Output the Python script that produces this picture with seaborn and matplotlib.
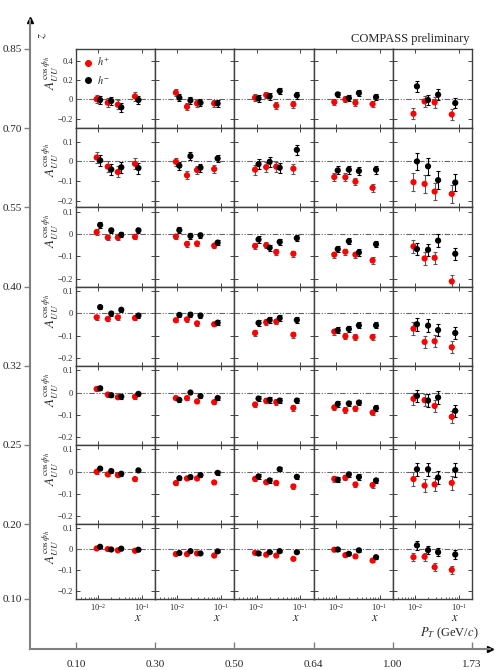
import numpy as np
import pandas as pd
import matplotlib
matplotlib.use('Agg')
import matplotlib.pyplot as plt
from matplotlib.lines import Line2D
from matplotlib.ticker import FuncFormatter, LogLocator, NullFormatter
import seaborn as sns

# bin edges of the outer axes
pt_edges = ['0.10', '0.30', '0.50', '0.64', '1.00', '1.73']
z_edges = ['0.85', '0.70', '0.55', '0.40', '0.32', '0.25', '0.20', '0.10']  # top -> bottom

# mean x of the four x bins
x_bins = [0.0092, 0.0165, 0.028, 0.069]

# A_UU^cos(phi_h), rows = z bins (top first), cols = P_T bins, 4 x bins each
a_pos = [
    [[0.003, -0.035, -0.056, 0.031], [0.07, -0.077, -0.042, -0.042], [0.017, 0.045, -0.066, -0.052],
     [-0.028, 0.0, -0.035, -0.049], [-0.15, -0.021, -0.031, -0.157]],
    [[0.02, -0.027, -0.054, -0.012], [-0.002, -0.071, -0.044, -0.039], [-0.042, -0.029, -0.027, -0.037],
     [-0.08, -0.081, -0.103, -0.135], [-0.106, -0.115, -0.154, -0.166]],
    [[0.009, -0.015, -0.015, -0.012], [-0.011, -0.044, -0.042, -0.052], [-0.053, -0.05, -0.08, -0.088],
     [-0.092, -0.079, -0.092, -0.118], [-0.055, -0.109, -0.106, -0.212]],
    [[-0.018, -0.025, -0.018, -0.021], [-0.031, -0.027, -0.045, -0.049], [-0.088, -0.04, -0.037, -0.096],
     [-0.082, -0.103, -0.107, -0.106], [-0.069, -0.128, -0.125, -0.152]],
    [[0.016, -0.009, -0.021, -0.019], [-0.025, -0.025, -0.04, -0.043], [-0.054, -0.037, -0.043, -0.069],
     [-0.067, -0.079, -0.072, -0.09], [-0.028, -0.034, -0.06, -0.109]],
    [[0.0, -0.012, -0.015, -0.033], [-0.051, -0.03, -0.03, -0.048], [-0.032, -0.047, -0.05, -0.066],
     [-0.032, -0.027, -0.057, -0.06], [-0.033, -0.062, -0.057, -0.05]],
    [[0.003, 0.0, -0.006, -0.008], [-0.024, -0.024, -0.021, -0.031], [-0.018, -0.027, -0.031, -0.047],
     [-0.003, -0.029, -0.035, -0.055], [-0.039, -0.037, -0.087, -0.1]],
]
a_neg = [
    [[-0.007, -0.017, -0.083, -0.007], [0.017, -0.01, -0.035, -0.042], [0.01, 0.031, 0.087, 0.042],
     [0.052, 0.014, 0.066, 0.024], [0.136, -0.007, 0.049, -0.038]],
    [[0.005, -0.041, -0.03, -0.034], [-0.022, 0.027, -0.032, 0.015], [-0.014, -0.002, -0.032, 0.059],
     [-0.046, -0.042, -0.049, -0.042], [0.0, -0.025, -0.096, -0.108]],
    [[0.041, 0.017, -0.003, 0.017], [0.018, -0.008, -0.005, -0.038], [-0.024, -0.061, -0.035, -0.018],
     [-0.067, -0.032, -0.082, -0.045], [-0.067, -0.07, -0.029, -0.088]],
    [[0.028, -0.001, 0.016, -0.01], [-0.007, -0.006, -0.01, -0.042], [-0.043, -0.03, -0.021, -0.03],
     [-0.076, -0.07, -0.054, -0.054], [-0.049, -0.055, -0.075, -0.088]],
    [[0.019, -0.012, -0.018, -0.006], [-0.033, 0.0, -0.016, -0.025], [-0.027, -0.033, -0.036, -0.036],
     [-0.051, -0.049, -0.045, -0.07], [-0.015, -0.036, -0.022, -0.082]],
    [[0.014, 0.003, -0.009, 0.006], [-0.029, -0.024, -0.015, -0.005], [-0.021, -0.039, 0.011, -0.023],
     [-0.036, -0.012, -0.024, -0.039], [0.011, 0.011, -0.026, 0.008]],
    [[0.011, -0.002, 0.002, -0.003], [-0.019, -0.01, -0.021, -0.011], [-0.021, -0.015, -0.01, -0.015],
     [-0.002, -0.023, -0.006, -0.039], [0.018, -0.005, -0.015, -0.026]],
]
# typical statistical error in each panel
a_err = [
    [0.045, 0.035, 0.035, 0.03, 0.055],
    [0.028, 0.02, 0.025, 0.02, 0.045],
    [0.012, 0.012, 0.014, 0.014, 0.028],
    [0.01, 0.01, 0.013, 0.013, 0.028],
    [0.009, 0.008, 0.012, 0.012, 0.028],
    [0.008, 0.008, 0.01, 0.012, 0.03],
    [0.004, 0.005, 0.006, 0.007, 0.02],
]

# y range / ticks per z row
row_ylim = [(-0.3, 0.525), (-0.235, 0.17), (-0.235, 0.12), (-0.235, 0.12),
            (-0.235, 0.12), (-0.235, 0.12), (-0.24, 0.12)]
row_yticks = [[-0.2, 0, 0.2, 0.4]] + [[-0.2, -0.1, 0, 0.1]] * 6

colors = {'h+': 'red', 'h-': 'black'}
ecolors = {'h+': '0.35', 'h-': 'black'}
shift = {'h+': 1.0, 'h-': 1.2}  # small horizontal offset so the two charges don't overlap

# long table
recs = []
for r in range(7):
    for c in range(5):
        for ch, arr in (('h+', a_pos), ('h-', a_neg)):
            for k in range(4):
                recs.append(dict(row=r, col=c, charge=ch, x=x_bins[k] * shift[ch],
                                 A=arr[r][c][k], err=a_err[r][c]))
df = pd.DataFrame(recs)

sns.set_theme(style='ticks')
plt.rcParams['font.family'] = ['Liberation Serif', 'DejaVu Serif']
plt.rcParams['mathtext.fontset'] = 'stix'

fig = plt.figure(figsize=(4.98, 6.70), dpi=100)
gs = fig.add_gridspec(7, 5, left=0.1526, right=0.9478, bottom=0.106, top=0.9269,
                      hspace=0, wspace=0, height_ratios=[1] * 6 + [0.945])
axs = gs.subplots()

yfmt = FuncFormatter(lambda v, p: '0' if abs(v) < 1e-9 else f'{v:g}'.replace('-', '\u2212'))

for r in range(7):
    for c in range(5):
        ax = axs[r, c]
        sub = df[(df.row == r) & (df.col == c)]
        ax.set_xscale('log')
        ax.axhline(0, color='0.4', lw=0.8, dashes=(5, 1.5, 1, 1.5, 1, 1.5), zorder=1)
        for ch in ('h+', 'h-'):
            s = sub[sub.charge == ch]
            ax.errorbar(s.x, s.A, yerr=s.err, fmt='none', ecolor=ecolors[ch],
                        elinewidth=0.8, capsize=1.3, capthick=0.8, zorder=2)
        sns.scatterplot(data=sub, x='x', y='A', hue='charge', palette=colors, ax=ax,
                        legend=False, s=20, linewidth=0, zorder=3)
        ax.set_xlim(0.0031, 0.2)
        ax.set_ylim(*row_ylim[r])
        ax.set_yticks(row_yticks[r])
        ax.yaxis.set_major_formatter(yfmt)
        ax.xaxis.set_major_locator(LogLocator(base=10))
        ax.xaxis.set_minor_locator(LogLocator(base=10, subs=np.arange(2, 10)))
        ax.xaxis.set_minor_formatter(NullFormatter())
        ax.tick_params(which='major', direction='in', top=True, right=True,
                       length=3, width=0.6, labelsize=6, pad=2)
        ax.tick_params(which='minor', direction='in', top=False, length=1.5, width=0.5,
                       bottom=(r == 6))
        ax.tick_params(axis='y', labelleft=(c == 0))
        ax.tick_params(axis='x', labelbottom=(r == 6))
        ax.set_ylabel('')
        ax.set_xlabel('')
        for sp in ax.spines.values():
            sp.set_color('0.25')
            sp.set_linewidth(1.0)
        if c == 0:
            ax.set_ylabel(r'$A_{UU}^{\cos\phi_h}$', fontsize=9.5)
            ax.yaxis.set_label_coords(-0.19, 0.6 if r == 1 else 0.7)
        if r == 6:
            ax.set_xlabel(r'$x$', fontsize=9)
            ax.xaxis.set_label_coords(0.78, -0.17)

# legend in the first panel
handles = [Line2D([], [], ls='none', marker='o', ms=4, color=colors[ch]) for ch in ('h+', 'h-')]
axs[0, 0].legend(handles, [r'$h^{+}$', r'$h^{-}$'], loc='upper left', frameon=False,
                 fontsize=7.5, handletextpad=0.3, labelspacing=0.5, borderaxespad=0.3,
                 handlelength=1.0)

# outer z / P_T axes
ox0, oy0, ow, oh = 30 / 498, 21 / 670, 460 / 498, 629 / 670
oax = fig.add_axes([ox0, oy0, ow, oh])
oax.set_zorder(-1)
oax.patch.set_visible(False)
oax.set_xlim(ox0, ox0 + ow)
oax.set_ylim(oy0, oy0 + oh)
oax.set_xticks([axs[0, c].get_position().x0 for c in range(5)] + [axs[0, 4].get_position().x1])
oax.set_xticklabels(pt_edges)
oax.set_yticks([axs[r, 0].get_position().y1 for r in range(7)] + [axs[6, 0].get_position().y0])
oax.set_yticklabels(z_edges)
for side in ('top', 'right'):
    oax.spines[side].set_visible(False)
for side in ('left', 'bottom'):
    oax.spines[side].set_color('0.5')
    oax.spines[side].set_linewidth(1.5)
oax.tick_params(axis='y', direction='out', length=4, width=1.0, color='0.5', labelsize=8, pad=2)
oax.tick_params(axis='x', direction='in', length=5, width=1.0, color='0.5', labelsize=8, pad=8)
oax.plot(1, 0, '>', color='black', ms=5, transform=oax.transAxes, clip_on=False)
oax.plot(0, 1, '^', color='black', ms=5, transform=oax.transAxes, clip_on=False)
oax.text(0.028, 0.975, r'$z$', transform=oax.transAxes, rotation=90, fontsize=9,
         ha='center', va='center')
oax.text(0.975, 0.012, r'$P_T$ (GeV/$c$)', transform=oax.transAxes, fontsize=9,
         ha='right', va='bottom')

fig.text(0.942, 0.942, 'COMPASS preliminary', fontsize=9, ha='right', va='center')

fig.savefig('out.png', dpi=100)
